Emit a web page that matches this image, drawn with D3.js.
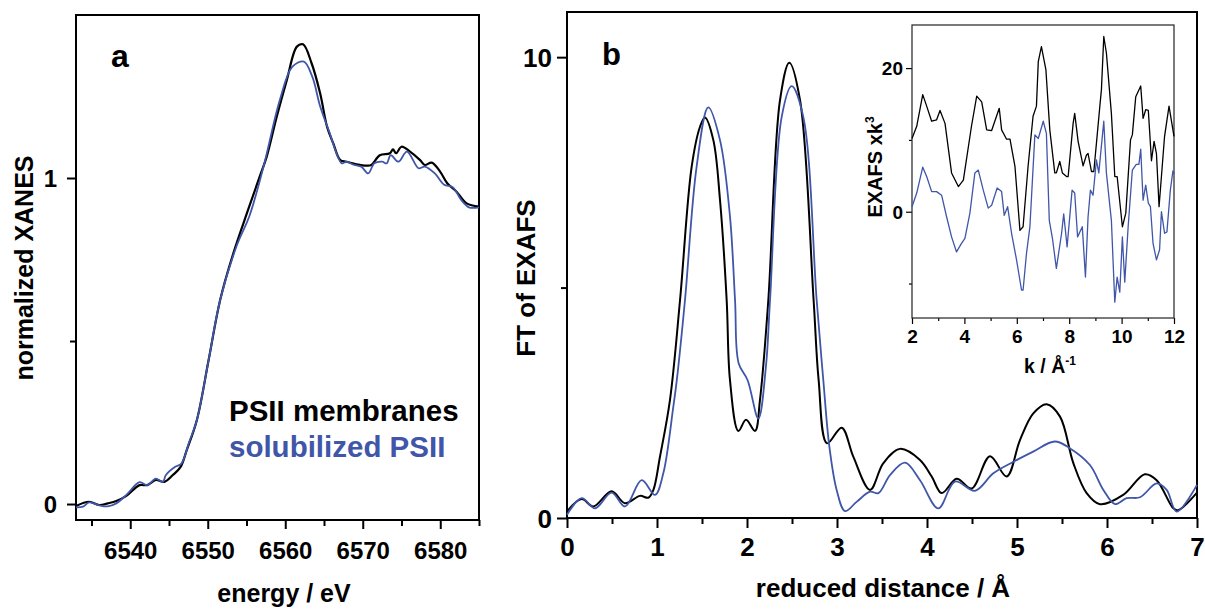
<!DOCTYPE html>
<html>
<head>
<meta charset="utf-8">
<script src="https://cdn.jsdelivr.net/npm/d3@7/dist/d3.min.js"></script>
<style>
  body { margin: 0; background: #fff; }
  svg text { font-family: "Liberation Sans", Arial, sans-serif; font-weight: bold; fill: #000; }
</style>
</head>
<body>
<svg width="1205" height="610"></svg>
<script>
"use strict";

const BLUE = "#3f56a9";

// ---- panel a: XANES ----
const memE  = [6533, 6534.7, 6536.0, 6537.1, 6538.2, 6539.5, 6541.2, 6542.2, 6543.3, 6544.4, 6545.5, 6546.5, 6547.3, 6548.6, 6550.1, 6551.6, 6553.3, 6555.2, 6556.7, 6557.6, 6558.9, 6560.2, 6561.5, 6562.3, 6563.4, 6564.5, 6565.4, 6566.2, 6567.1, 6567.9, 6569.2, 6570.5, 6571.1, 6572.2, 6573.5, 6573.9, 6574.3, 6575.0, 6576.1, 6577.4, 6578.0, 6578.9, 6580.0, 6580.9, 6582.1, 6583.4, 6585];
const memMu = [-0.006, 0.007, -0.003, 0.002, 0.009, 0.025, 0.058, 0.058, 0.074, 0.068, 0.089, 0.114, 0.166, 0.258, 0.44, 0.626, 0.769, 0.902, 1.004, 1.065, 1.188, 1.30, 1.403, 1.41, 1.352, 1.26, 1.157, 1.106, 1.055, 1.05, 1.042, 1.038, 1.04, 1.07, 1.076, 1.088, 1.076, 1.096, 1.081, 1.055, 1.04, 1.047, 1.019, 0.984, 0.958, 0.922, 0.912];
const solE  = [6533, 6533.9, 6534.7, 6536.0, 6537.1, 6538.2, 6539.5, 6541.2, 6542.2, 6543.3, 6544.2, 6544.6, 6545.8, 6546.6, 6547.6, 6548.6, 6550.1, 6551.6, 6553.7, 6555.4, 6557.2, 6559.3, 6560.9, 6562.4, 6563.5, 6564.5, 6565.6, 6567.3, 6567.9, 6568.9, 6569.8, 6570.7, 6571.5, 6572.5, 6573.1, 6573.6, 6574.6, 6575.7, 6577.2, 6578.0, 6579.3, 6580.5, 6581.6, 6582.7, 6583.7, 6585];
const solMu = [-0.01, -0.008, 0.005, -0.004, -0.007, 0.002, 0.028, 0.067, 0.058, 0.078, 0.068, 0.089, 0.114, 0.124, 0.19, 0.258, 0.44, 0.626, 0.79, 0.885, 1.035, 1.239, 1.341, 1.357, 1.31, 1.22, 1.147, 1.045, 1.05, 1.04, 1.035, 1.014, 1.045, 1.05, 1.045, 1.07, 1.05, 1.081, 1.03, 1.035, 1.014, 0.979, 0.972, 0.933, 0.91, 0.91];

const aXTicks = [6540, 6550, 6560, 6570, 6580];
const aXMinor = [6535, 6545, 6555, 6565, 6575, 6585];
const aYTicks = [0, 1];
const aYMinor = [0.5];

// ---- panel b: FT of EXAFS ----
const ftMemR = [0, 0.163, 0.293, 0.496, 0.644, 0.811, 0.904, 0.96, 1.033, 1.144, 1.256, 1.385, 1.478, 1.533, 1.626, 1.7, 1.774, 1.811, 1.904, 1.989, 2.089, 2.144, 2.237, 2.367, 2.47, 2.589, 2.74, 2.796, 2.889, 3.052, 3.181, 3.367, 3.515, 3.7, 3.922, 4.052, 4.163, 4.33, 4.496, 4.7, 4.885, 5.033, 5.181, 5.33, 5.478, 5.626, 5.774, 5.922, 6.18, 6.42, 6.552, 6.737, 6.79, 7.0];
const ftMem  = [0.14, 0.41, 0.25, 0.58, 0.32, 0.48, 0.44, 0.61, 1.33, 2.56, 4.73, 7.62, 8.49, 8.69, 8.2, 6.9, 4.73, 2.99, 1.89, 2.13, 1.89, 2.56, 4.73, 9.07, 9.88, 9.07, 4.73, 2.99, 1.62, 1.96, 1.33, 0.61, 1.19, 1.5, 1.26, 0.9, 0.54, 0.85, 0.64, 1.34, 0.9, 1.69, 2.27, 2.47, 2.2, 1.19, 0.54, 0.3, 0.5, 0.95, 0.82, 0.21, 0.17, 0.55];
const ftSolR = [0, 0.163, 0.311, 0.496, 0.644, 0.83, 0.978, 1.07, 1.181, 1.22, 1.311, 1.44, 1.57, 1.7, 1.811, 1.867, 1.907, 2.007, 2.126, 2.21, 2.256, 2.385, 2.496, 2.626, 2.774, 2.848, 2.915, 2.996, 3.089, 3.218, 3.367, 3.459, 3.589, 3.756, 3.922, 4.126, 4.311, 4.533, 4.737, 4.96, 5.18, 5.42, 5.59, 5.81, 5.96, 6.089, 6.219, 6.367, 6.552, 6.663, 6.774, 7.0];
const ftSol  = [0.07, 0.43, 0.21, 0.55, 0.25, 0.82, 0.5, 0.97, 2.41, 2.99, 4.73, 7.62, 8.91, 8.2, 6.54, 4.73, 3.36, 2.99, 2.16, 3.28, 4.73, 8.7, 9.37, 8.7, 4.73, 2.99, 1.55, 0.61, 0.15, 0.35, 0.57, 0.54, 0.93, 1.2, 0.82, 0.21, 0.79, 0.59, 0.97, 1.22, 1.44, 1.66, 1.51, 1.15, 0.61, 0.3, 0.43, 0.45, 0.75, 0.61, 0.14, 0.72];

const bXTicks = [0, 1, 2, 3, 4, 5, 6, 7];
const bXMinor = [0.5, 1.5, 2.5, 3.5, 4.5, 5.5, 6.5];
const bYTicks = [0, 10];
const bYMinor = [5];

// ---- inset: EXAFS x k^3 ----
const kMem = [2.0, 2.18, 2.41, 2.56, 2.75, 2.94, 3.07, 3.26, 3.51, 3.77, 3.96, 4.27, 4.47, 4.66, 4.85, 5.04, 5.33, 5.42, 5.61, 5.74, 5.93, 6.12, 6.24, 6.43, 6.62, 6.75, 6.82, 6.94, 7.11, 7.26, 7.45, 7.51, 7.64, 7.74, 7.90, 7.96, 8.15, 8.21, 8.34, 8.53, 8.66, 8.72, 8.85, 8.94, 9.17, 9.23, 9.32, 9.42, 9.61, 9.74, 9.83, 10.03, 10.16, 10.34, 10.41, 10.54, 10.73, 10.82, 10.92, 11.02, 11.14, 11.24, 11.33, 11.43, 11.64, 11.81, 12.0];
const chiMem = [10.2, 11.9, 16.3, 14.7, 12.6, 12.8, 14.1, 12.3, 5.4, 3.5, 4.4, 11.9, 16.1, 15.3, 11.4, 11.3, 14.4, 11.4, 10.1, 10.1, 6.3, -2.6, -2.1, 6.3, 13.3, 14.7, 20.9, 23.0, 19.8, 11.4, 5.4, 5.4, 7.0, 5.4, 4.9, 4.9, 12.3, 13.7, 9.8, 6.4, 7.9, 8.1, 5.6, 5.6, 14.7, 17.0, 24.4, 22.1, 13.7, 4.9, 4.9, -2.1, -0.2, 10.0, 10.7, 16.0, 17.5, 13.0, 14.2, 14.1, 7.1, 9.8, 8.1, 0.7, 10.5, 14.7, 10.5];
const kSol = [2.0, 2.18, 2.41, 2.56, 2.75, 2.94, 3.13, 3.32, 3.51, 3.70, 3.89, 4.02, 4.21, 4.40, 4.53, 4.72, 4.91, 5.04, 5.25, 5.42, 5.52, 5.65, 5.80, 5.99, 6.18, 6.24, 6.37, 6.50, 6.69, 6.82, 7.01, 7.13, 7.24, 7.36, 7.51, 7.71, 7.79, 7.92, 8.11, 8.21, 8.32, 8.50, 8.62, 8.72, 8.81, 8.91, 9.04, 9.13, 9.32, 9.42, 9.61, 9.74, 9.83, 9.93, 10.03, 10.12, 10.25, 10.41, 10.56, 10.66, 10.73, 10.82, 10.92, 11.02, 11.10, 11.20, 11.33, 11.45, 11.52, 11.64, 11.73, 11.86, 11.96, 12.0];
const chiSol = [0.7, 2.6, 6.2, 4.9, 2.8, 2.8, 2.3, -0.7, -3.5, -5.6, -4.4, -3.7, -0.2, 5.4, 5.8, 3.0, 0.5, 0.9, 3.3, 2.8, -0.5, 0.7, -3.0, -6.7, -10.9, -10.9, -5.8, -2.1, 10.7, 10.2, 12.6, 10.9, -1.2, -3.7, -7.9, -3.0, -0.3, -4.9, 3.0, 2.6, -3.5, -2.1, -9.1, -0.7, 3.0, 2.3, 7.2, 5.4, 12.6, 5.4, -1.2, -12.6, -9.1, -11.2, -3.5, -9.8, -2.1, 5.8, 6.6, 6.6, 8.7, 1.6, 3.7, 1.2, 0.7, -4.4, -6.7, -5.3, 0.0, -3.0, -2.8, 3.0, 5.7, 5.3];

const iXTicks = [2, 4, 6, 8, 10, 12];
const iXMinor = [3, 5, 7, 9, 11];
const iYTicks = [0, 20];
const iYMinor = [-10, 10];

const svg = d3.select("svg");

// draws frame, major/minor ticks and tick labels for one panel
function frame(box, x, y, opt) {
  const g = svg.append("g");
  const xb = g.append("g").attr("transform", `translate(0,${box.b})`);
  xb.call(d3.axisBottom(x).tickValues(opt.xt).tickSize(opt.major).tickFormat(d3.format("d")));
  xb.selectAll("text").attr("y", opt.xLabY).attr("dy", null).style("font-size", opt.fs + "px");
  xb.append("g").call(d3.axisBottom(x).tickValues(opt.xm).tickSize(opt.minor).tickFormat(""));
  const yl = g.append("g").attr("transform", `translate(${box.l},0)`);
  yl.call(d3.axisLeft(y).tickValues(opt.yt).tickSize(opt.major).tickFormat(d3.format("d")));
  yl.selectAll("text").attr("x", -opt.yLabX).attr("dy", "0.36em").style("font-size", opt.fs + "px");
  yl.append("g").call(d3.axisLeft(y).tickValues(opt.ym).tickSize(opt.minor).tickFormat(""));
  g.selectAll(".domain").remove();
  g.selectAll("line").attr("stroke", "#000").attr("stroke-width", opt.sw);
  g.selectAll(".tick text").attr("font-family", null).attr("font-size", null);
  g.append("rect")
    .attr("x", box.l).attr("y", box.t)
    .attr("width", box.r - box.l).attr("height", box.b - box.t)
    .attr("fill", "none").attr("stroke", opt.frameColor || "#000").attr("stroke-width", opt.sw);
  return g;
}

function curve(x, y, xs, ys, color, w, interp) {
  const pts = xs.map((d, i) => [d, ys[i]]);
  svg.append("path")
    .datum(pts)
    .attr("fill", "none")
    .attr("stroke", color)
    .attr("stroke-width", w)
    .attr("stroke-linejoin", "round")
    .attr("d", d3.line().x(d => x(d[0])).y(d => y(d[1])).curve(interp));
}

function label(x, y, size, rot) {
  return svg.append("text")
    .attr("text-anchor", "middle")
    .style("font-size", size + "px")
    .attr("transform", `translate(${x},${y})` + (rot ? " rotate(-90)" : ""));
}

// panel a
const boxA = { l: 76, r: 479, t: 15, b: 520 };
const xA = d3.scaleLinear().domain([6533, 6585]).range([boxA.l, boxA.r]);
const yA = d3.scaleLinear().domain([-0.049, 1.5]).range([boxA.b, boxA.t]);
frame(boxA, xA, yA, { xt: aXTicks, xm: aXMinor, yt: aYTicks, ym: aYMinor, major: 9, minor: 6, fs: 24, xLabY: 39, yLabX: 19, sw: 2 });
curve(xA, yA, memE, memMu, "#000", 2.2, d3.curveCatmullRom);
curve(xA, yA, solE, solMu, BLUE, 1.8, d3.curveCatmullRom);
label(284, 602, 25).text("energy / eV");
label(33, 268, 25, true).text("normalized XANES");
svg.append("text").attr("x", 111).attr("y", 67).style("font-size", "32px").text("a");
svg.append("text").attr("x", 229).attr("y", 421).style("font-size", "29.5px").text("PSII membranes");
svg.append("text").attr("x", 229).attr("y", 457).style("font-size", "29.5px").style("fill", BLUE).text("solubilized PSII");

// panel b
const boxB = { l: 567, r: 1197, t: 12, b: 518 };
const xB = d3.scaleLinear().domain([0, 7]).range([boxB.l, boxB.r]);
const yB = d3.scaleLinear().domain([0, 10.98]).range([boxB.b, boxB.t]);
frame(boxB, xB, yB, { xt: bXTicks, xm: bXMinor, yt: bYTicks, ym: bYMinor, major: 10, minor: 6, fs: 26, xLabY: 38, yLabX: 15, sw: 2 });
curve(xB, yB, ftMemR, ftMem, "#000", 2, d3.curveCatmullRom);
curve(xB, yB, ftSolR, ftSol, BLUE, 1.8, d3.curveCatmullRom);
label(883, 597, 26).text("reduced distance / Å");
label(535, 278, 26, true).text("FT of EXAFS");
svg.append("text").attr("x", 602).attr("y", 65).style("font-size", "31px").text("b");

// inset
const boxI = { l: 912, r: 1174, t: 25, b: 318 };
const xI = d3.scaleLinear().domain([2, 12]).range([boxI.l, boxI.r]);
const yI = d3.scaleLinear().domain([-14.8, 26]).range([boxI.b, boxI.t]);
frame(boxI, xI, yI, { xt: iXTicks, xm: iXMinor, yt: iYTicks, ym: iYMinor, major: 6, minor: 3, fs: 19, xLabY: 25, yLabX: 9, sw: 1.2, frameColor: "#222" });
curve(xI, yI, kMem, chiMem, "#000", 1.3, d3.curveLinear);
curve(xI, yI, kSol, chiSol, BLUE, 1.3, d3.curveLinear);
const kl = label(1050, 373, 19.5);
kl.append("tspan").text("k / Å");
kl.append("tspan").attr("dy", -8).style("font-size", "12px").text("-1");
const el = label(882, 167, 20, true);
el.append("tspan").text("EXAFS xk");
el.append("tspan").attr("dy", -8).style("font-size", "12px").text("3");
</script>
</body>
</html>
